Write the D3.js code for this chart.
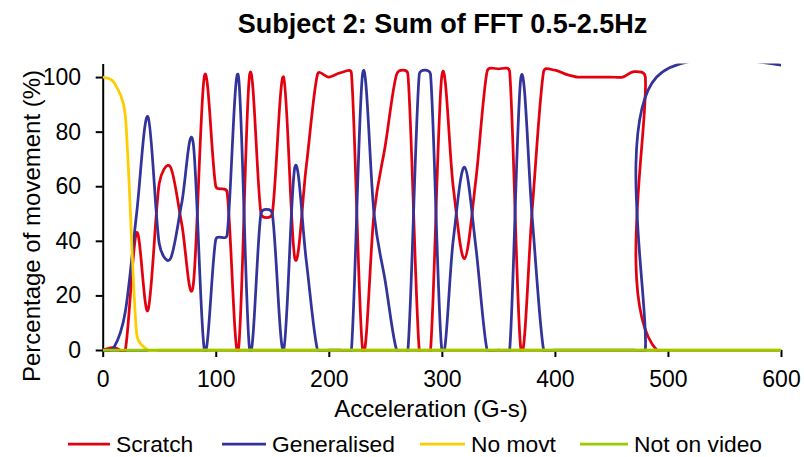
<!DOCTYPE html>
<html lang="en">
<head>
<meta charset="UTF-8">
<title>Subject 2: Sum of FFT 0.5-2.5Hz</title>
<script src="https://cdn.jsdelivr.net/npm/d3@7"></script>
<style>
  body { margin: 0; background: #fff; }
  svg { display: block; font-family: "Liberation Sans", Arial, sans-serif; }
  .axis path, .axis line { stroke: #000; stroke-width: 2; }
  .axis text { font-size: 23px; fill: #000; }
</style>
</head>
<body>
<svg id="chart" width="804" height="457"></svg>
<script>
// Acceleration bins (G-s). The last bin lies past the axis end and gets clipped.
const accel = [
  0, 10, 20, 30, 40, 50, 60, 70, 80, 90,
  100, 110, 120, 130, 140, 150, 160, 170, 180, 190,
  200, 210, 220, 230, 240, 250, 260, 270, 280, 290,
  300, 310, 320, 330, 340, 350, 360, 370, 380, 390,
  400, 410, 420, 430, 440, 450, 460, 470, 480, 490,
  700
];

// Percentage of movement per bin
const scratch = [
  0, 1, 0, 43, 14.5, 61, 67, 46, 23.5, 100.5,
  60, 58, 0, 101, 50, 50, 100, 33.5, 67, 101,
  100, 101.5, 101.5, 0, 50, 75, 101, 101, 0, 0,
  100.5, 60, 33.5, 62, 102, 103, 102, 0, 52, 102,
  102.5, 101, 100, 100, 100, 100, 100, 102, 100, 0,
  0
];
const generalised = [
  0, 1, 14, 50, 85.5, 39, 33.5, 54, 76, 0,
  40.5, 42, 100.5, 0, 50, 50, 0, 67, 33, 0,
  0, 0, 0, 101.5, 50, 25, 0, 0, 101, 101,
  0, 40, 67, 38, 0, 0, 0, 100, 48, 0,
  0, 0, 0, 0, 0, 0, 0, 0, 0, 100,
  97
];
const noMovt = [
  100, 98, 86, 6, 0, 0, 0, 0, 0, 0,
  0, 0, 0, 0, 0, 0, 0, 0, 0, 0,
  0, 0, 0, 0, 0, 0, 0, 0, 0, 0,
  0, 0, 0, 0, 0, 0, 0, 0, 0, 0,
  0, 0, 0, 0, 0, 0, 0, 0, 0, 0,
  0
];
const notOnVideo = [
  0, 0, 0, 0, 0, 0, 0, 0, 0, 0,
  0, 0, 0, 0, 0, 0, 0, 0, 0, 0,
  0, 0, 0, 0, 0, 0, 0, 0, 0, 0,
  0, 0, 0, 0, 0, 0, 0, 0, 0, 0,
  0, 0, 0, 0, 0, 0, 0, 0, 0, 0,
  0
];

const seriesNames = ['Scratch', 'Generalised', 'No movt', 'Not on video'];
const xTicks = [0, 100, 200, 300, 400, 500, 600];
const yTicks = [0, 20, 40, 60, 80, 100];

const colors = ['#e3000f', '#333399', '#ffcc00', '#99cc00'];
const series = [scratch, generalised, noMovt, notOnVideo];

// Smoothed line the way the spreadsheet does it: Bezier handles of 1/6 of
// the neighbour chord, but never longer than half of the segment itself
function CurveSmooth(context) { this._context = context; }
CurveSmooth.prototype = {
  areaStart() {},
  areaEnd() {},
  lineStart() { this._pts = []; },
  point(px, py) { this._pts.push([+px, +py]); },
  lineEnd() {
    const p = this._pts, n = p.length, ctx = this._context;
    if (!n) return;
    ctx.moveTo(p[0][0], p[0][1]);
    for (let i = 0; i < n - 1; i++) {
      const p0 = p[Math.max(i - 1, 0)], p1 = p[i], p2 = p[i + 1], p3 = p[Math.min(i + 2, n - 1)];
      const seg = Math.hypot(p2[0] - p1[0], p2[1] - p1[1]);
      const handle = (dx, dy) => {
        const len = Math.hypot(dx, dy) / 6;
        if (len === 0) return [0, 0];
        const s = len > seg / 2 ? (seg / 2) / len : 1;
        return [dx / 6 * s, dy / 6 * s];
      };
      const a = handle(p2[0] - p0[0], p2[1] - p0[1]);
      const b = handle(p3[0] - p1[0], p3[1] - p1[1]);
      ctx.bezierCurveTo(p1[0] + a[0], p1[1] + a[1], p2[0] - b[0], p2[1] - b[1], p2[0], p2[1]);
    }
  }
};
const curveSmooth = ctx => new CurveSmooth(ctx);

const svg = d3.select('#chart');
svg.append('rect').attr('width', 804).attr('height', 457).attr('fill', '#fff');

const x = d3.scaleLinear().domain([0, 600]).range([102.7, 781]);
const y = d3.scaleLinear().domain([0, 105]).range([350, 63.4]);

// Title
svg.append('text')
  .attr('x', 442.5).attr('y', 33)
  .attr('text-anchor', 'middle')
  .attr('font-size', 27).attr('font-weight', 'bold')
  .text('Subject 2: Sum of FFT 0.5-2.5Hz');

// Axes
svg.append('g')
  .attr('class', 'axis')
  .attr('transform', 'translate(0,350)')
  .call(d3.axisBottom(x).tickValues(xTicks).tickSize(7).tickSizeOuter(0).tickPadding(13.7));

svg.append('g')
  .attr('class', 'axis')
  .attr('transform', 'translate(102.7,0)')
  .call(d3.axisLeft(y).tickValues(yTicks).tickSize(7).tickSizeOuter(0).tickPadding(14.7));

// let the css decide the tick label font
svg.selectAll('.axis').attr('font-family', null).attr('font-size', null);

// Axis titles
svg.append('text')
  .attr('x', 431).attr('y', 417)
  .attr('text-anchor', 'middle')
  .attr('font-size', 24)
  .text('Acceleration (G-s)');

svg.append('text')
  .attr('transform', 'translate(39.5,226) rotate(-90)')
  .attr('text-anchor', 'middle')
  .attr('font-size', 24)
  .text('Percentage of movement (%)');

// Lines, clipped to the plot area
svg.append('clipPath').attr('id', 'plot-clip')
  .append('rect')
  .attr('x', x(0)).attr('y', y(105))
  .attr('width', x(600) - x(0)).attr('height', y(0) - y(105) + 2);

const line = d3.line()
  .x((d, i) => x(accel[i]))
  .y(d => y(d))
  .curve(curveSmooth);

svg.append('g')
  .attr('clip-path', 'url(#plot-clip)')
  .selectAll('path')
  .data(series)
  .join('path')
  .attr('fill', 'none')
  .attr('stroke', (d, i) => colors[i])
  .attr('stroke-width', 2.75)
  .attr('stroke-linejoin', 'round')
  .attr('d', line);

// Legend
const legendX = [68, 222, 420, 580];
const legendLen = [42, 44, 45, 48];
const legend = svg.append('g')
  .selectAll('g')
  .data(seriesNames)
  .join('g')
  .attr('transform', (d, i) => `translate(${legendX[i]},444)`);

legend.append('line')
  .attr('x1', 0).attr('x2', (d, i) => legendLen[i])
  .attr('stroke', (d, i) => colors[i])
  .attr('stroke-width', 2.75);

legend.append('text')
  .attr('x', (d, i) => legendLen[i] + 6).attr('y', 8)
  .attr('font-size', 22.8)
  .text(d => d);
</script>
</body>
</html>
